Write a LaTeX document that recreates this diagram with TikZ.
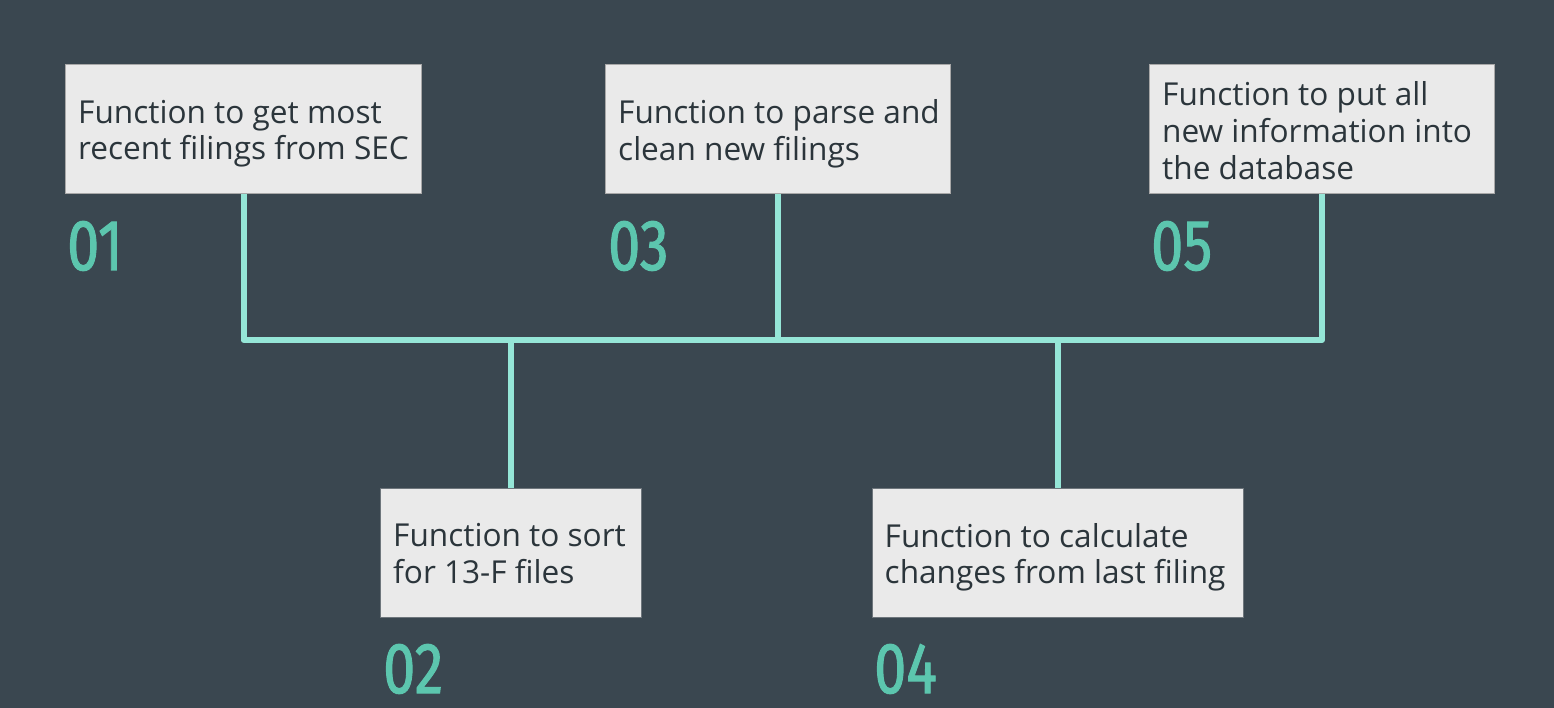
\documentclass[tikz,border=0pt]{standalone}
\usepackage{fontspec}
\setmainfont{Open Sans}
\newfontfamily\numfont{Fira Sans}[FakeBold=1.5]
\definecolor{bg}{HTML}{3A4750}
\definecolor{boxfill}{HTML}{EAEAEA}
\definecolor{boxline}{HTML}{A8A8A8}
\definecolor{boxlinedark}{HTML}{6E767C}
\definecolor{wire}{HTML}{95E6D7}
\definecolor{numcol}{HTML}{5CC6AE}
\definecolor{txtcol}{HTML}{2B353B}
\newcommand{\firstline}{\rule{0pt}{23.5pt}}
\tikzset{
  box/.style={draw=boxline, line width=1pt, fill=boxfill, rectangle, inner sep=0pt},
  lowbox/.style={box, draw=boxlinedark},
  label/.style={anchor=north west, inner sep=0pt, align=left, text=txtcol,
    font=\fontsize{31.6}{36.7}\selectfont},
  num/.style={anchor=base west, inner sep=0pt, text=numcol, text depth=0pt,
    font=\numfont\fontsize{72}{72}\selectfont},
  wirestyle/.style={draw=wire, line width=6pt, line join=round, line cap=rect}
}
\newcommand{\numtext}[1]{\scalebox{0.8}[1]{#1}}
\begin{document}
\begin{tikzpicture}[x=1pt, y=-1pt]
\fill[bg] (0,0) rectangle (1554,708);
\useasboundingbox (0,0) rectangle (1554,708);
% boxes
\node[box, minimum width=356pt, minimum height=129pt] (b1) at (243.5,129.5) {};
\node[box, minimum width=345pt, minimum height=129pt] (b3) at (778,129.5) {};
\node[box, minimum width=345pt, minimum height=129pt] (b5) at (1322,129.5) {};
\node[lowbox, minimum width=261pt, minimum height=129pt] (b2) at (511,552.5) {};
\node[lowbox, minimum width=371pt, minimum height=129pt] (b4) at (1057.5,552.5) {};
% connectors
\coordinate (bus) at (0,340);
\draw[wirestyle] (b1.south) |- (b5.south |- bus) -- (b5.south);
\draw[wirestyle] (b3.south) -- (b3.south |- bus);
\draw[wirestyle] (b2.north) -- (b2.north |- bus);
\draw[wirestyle] (b4.north) -- (b4.north |- bus);
% redraw boxes on top of wire ends
\node[box, minimum width=356pt, minimum height=129pt] at (b1) {};
\node[box, minimum width=345pt, minimum height=129pt] at (b3) {};
\node[box, minimum width=345pt, minimum height=129pt] at (b5) {};
\node[lowbox, minimum width=261pt, minimum height=129pt] at (b2) {};
\node[lowbox, minimum width=371pt, minimum height=129pt] at (b4) {};
% labels
\node[label] (t1) at ([shift={(13,35)}]b1.north west) {\firstline Function to get most\\recent filings from SEC};
\node[label] (t3) at ([shift={(13,35)}]b3.north west) {\firstline Function to parse and\\clean new filings};
\node[label] (t5) at ([shift={(13,17)}]b5.north west) {\firstline Function to put all\\new information into\\the database};
\node[label] (t2) at ([shift={(13,35.5)}]b2.north west) {\firstline Function to sort\\for 13-F files};
\node[label] (t4) at ([shift={(13,35.5)}]b4.north west) {\firstline Function to calculate\\changes from last filing};
% numbers
\node[num] (n1) at (67,270) {\numtext{01}};
\node[num] (n3) at (608,270) {\numtext{03}};
\node[num] (n5) at (1151,270) {\numtext{05}};
\node[num] (n2) at (383,693) {\numtext{02}};
\node[num] (n4) at (874,693) {\numtext{04}};
\end{tikzpicture}
\end{document}
